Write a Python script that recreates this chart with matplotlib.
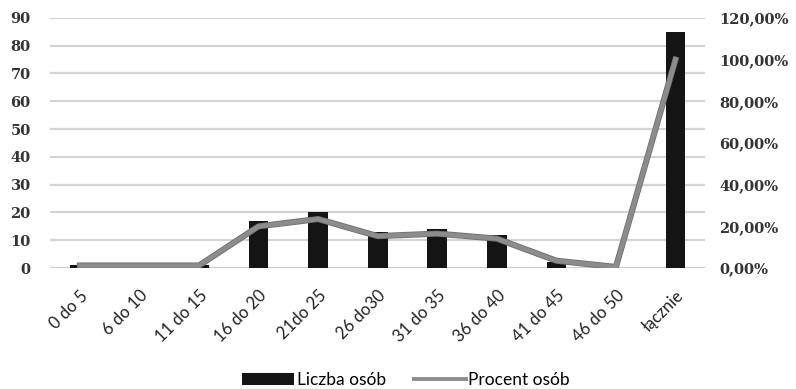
import matplotlib.pyplot as plt
import matplotlib.patheffects as pe
from matplotlib.lines import Line2D
from matplotlib.patches import Patch
from matplotlib.ticker import FuncFormatter
import numpy as np

kategorie = ["0 do 5", "6 do 10", "11 do 15", "16 do 20", "21do 25", "26 do30",
             "31 do 35", "36 do 40", "41 do 45", "46 do 50", "łącznie"]
liczba_osob = [1, 1, 1, 17, 20, 13, 14, 12, 2, 0, 85]
procent_osob = [1.2, 1.2, 1.2, 20.0, 23.5, 15.3, 16.5, 14.1, 3.5, 0.5, 100.0]

fig = plt.figure(figsize=(7.96, 3.89), dpi=100)
ax = fig.add_axes([0.063, 0.311, 0.823, 0.643])
ax2 = ax.twinx()

x = np.arange(len(kategorie))
ax.bar(x, liczba_osob, width=0.33, color="#141414", zorder=2)
ax.set_ylim(0, 90)
ax.set_yticks(range(0, 91, 10))
ax.set_xlim(-0.5, len(kategorie) - 0.5)
ax.yaxis.grid(True, color="#d4d4d4", linewidth=1.6, zorder=0)
ax.set_axisbelow(True)

# linia procentowa z ciemniejszym obrysem
ax2.plot(x, procent_osob, color="#8c8c8c", linewidth=3.2, solid_joinstyle="round",
         path_effects=[pe.Stroke(linewidth=4.4, foreground="#6e6e6e"), pe.Normal()],
         zorder=3)
ax2.set_ylim(0, 120)
ax2.set_yticks(range(0, 121, 20))
ax2.yaxis.set_major_formatter(FuncFormatter(lambda v, p: f"{v:.2f}%".replace(".", ",")))

for a in (ax, ax2):
    for s in a.spines.values():
        s.set_visible(False)
    a.tick_params(length=0, colors="#333333")
    for t in a.get_yticklabels():
        t.set_fontfamily("DejaVu Serif")
        t.set_fontweight("bold")
        t.set_fontsize(10.5)
ax.tick_params(axis="y", pad=14)
ax2.tick_params(axis="y", pad=10)

ax.set_xticks(x)
ax.set_xticklabels(kategorie, rotation=45, ha="right", rotation_mode="anchor",
                   fontsize=12, fontfamily="Lato", color="#222222")
ax.tick_params(axis="x", pad=14)
ax.axhline(0, color="#cccccc", linewidth=1.2, zorder=1)

uchwyty = [Patch(facecolor="#141414"), Line2D([], [], color="#8c8c8c", linewidth=2.8)]
fig.legend(uchwyty, ["Liczba osób", "Procent osób"], loc="center",
           bbox_to_anchor=(0.51, 0.022), ncol=2, frameon=False, handlelength=3.0,
           handletextpad=0.15, columnspacing=1.6,
           prop={"family": "Lato", "size": 12.5})

fig.savefig("out.png", dpi=100)
